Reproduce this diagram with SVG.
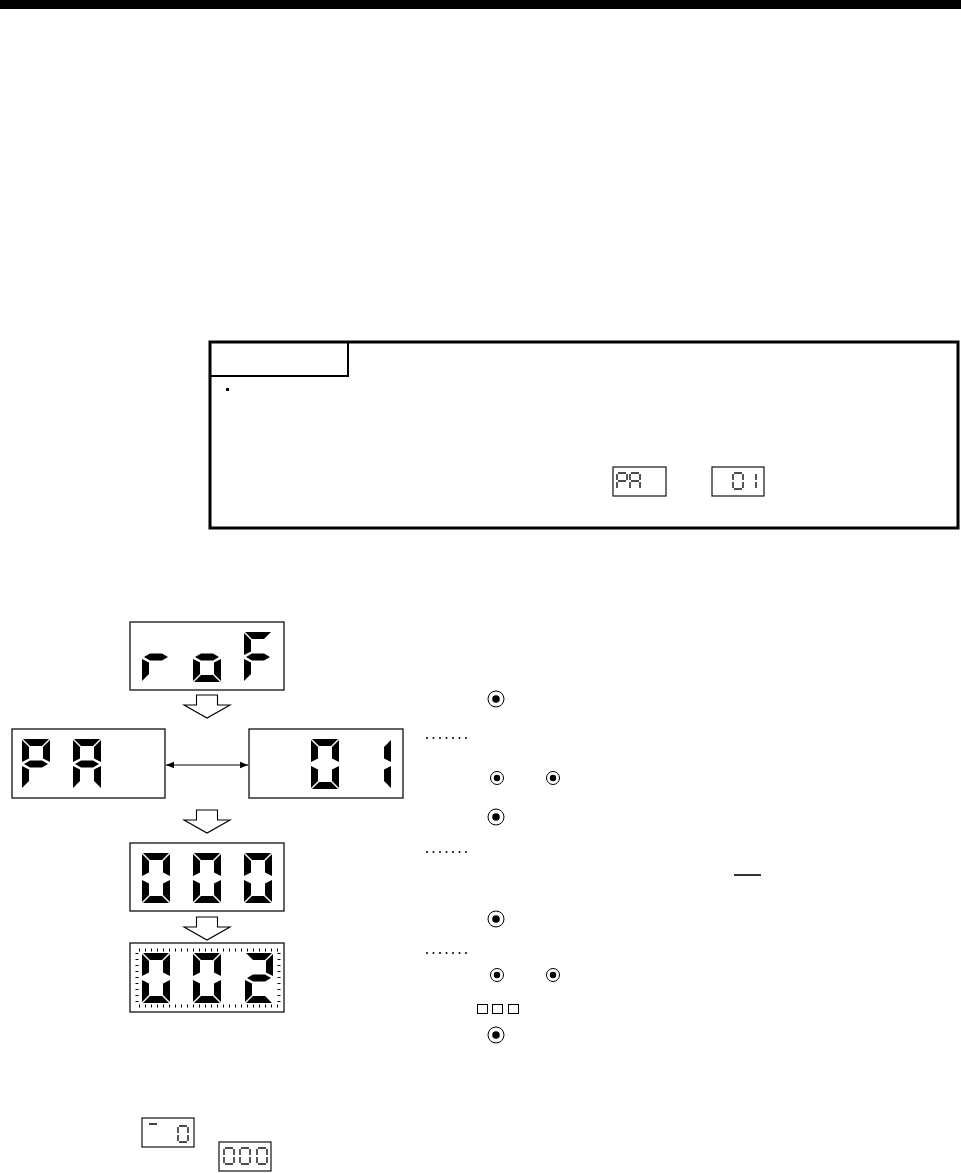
<svg xmlns="http://www.w3.org/2000/svg" width="961" height="1173" viewBox="0 0 961 1173">
<style>
.box{fill:#fff;stroke:#222;stroke-width:1.4}
.sbox{fill:#fff;stroke:#111;stroke-width:1.2}
.seg{fill:#000}
.sl{stroke:#111;stroke-width:1.4;fill:none;stroke-linecap:butt}
.barrow{fill:#fff;stroke:#000;stroke-width:1.1;stroke-linejoin:miter}
.dots{stroke:#000;stroke-width:2;stroke-linecap:round;stroke-dasharray:0 6.5;fill:none}
.tick{stroke:#000;stroke-width:3;stroke-dasharray:1 5;fill:none}
</style>
<defs>
<polygon id="sa" class="seg" points="1,0 27,0 20,7 8,7"/>
<polygon id="sb" class="seg" points="28,1 28,23 21,19.5 21,8"/>
<polygon id="sc" class="seg" points="28,27 28,49 21,42 21,30.5"/>
<polygon id="sd" class="seg" points="1,50 27,50 20,43 8,43"/>
<polygon id="se" class="seg" points="0,27 0,49 7,42 7,30.5"/>
<polygon id="sf" class="seg" points="0,1 0,23 7,19.5 7,8"/>
<polygon id="sg" class="seg" points="2,25 8,21.5 20,21.5 26,25 20,28.5 8,28.5"/>
<g id="D0"><use href="#sa"/><use href="#sb"/><use href="#sc"/><use href="#sd"/><use href="#se"/><use href="#sf"/></g>
<g id="D1"><use href="#sb"/><use href="#sc"/></g>
<g id="D2"><use href="#sa"/><use href="#sb"/><use href="#sg"/><use href="#se"/><use href="#sd"/></g>
<g id="Dr"><use href="#sg"/><use href="#se"/></g>
<g id="Do"><use href="#sg"/><use href="#sc"/><use href="#sd"/><use href="#se"/></g>
<g id="DF"><use href="#sa"/><use href="#sf"/><use href="#sg"/><use href="#se"/></g>
<g id="DP"><use href="#sa"/><use href="#sb"/><use href="#sf"/><use href="#sg"/><use href="#se"/></g>
<g id="DA"><use href="#sa"/><use href="#sb"/><use href="#sc"/><use href="#se"/><use href="#sf"/><use href="#sg"/></g>
<path id="s0" class="sl" d="M1,0H9M10,1V7M10,9V15M1,16H9M0,9V15M0,1V7"/>
<path id="s1" class="sl" d="M10,1V7M10,9V15"/>
<path id="sP" class="sl" d="M1,0H9M10,1V7M0,1V7M1,8H9M0,9V15"/>
<path id="sA" class="sl" d="M1,0H9M10,1V7M10,9V15M0,9V15M0,1V7M1,8H9"/>
<g id="btn"><circle r="8" fill="#fff" stroke="#000" stroke-width="1"/><circle r="3.8" fill="#000"/></g>
<g id="btns"><circle r="6.5" fill="#fff" stroke="#000" stroke-width="1"/><circle r="3.2" fill="#000"/></g>
<marker id="ah" viewBox="0 0 8 8" refX="8" refY="4" markerWidth="8" markerHeight="8" markerUnits="userSpaceOnUse" orient="auto-start-reverse"><path d="M0,0.8L8,4L0,7.2Z" fill="#000"/></marker>
</defs>

<rect id="topbar" x="0" y="0" width="961" height="9" fill="#000"/>

<g id="caution">
<rect x="210" y="342" width="748" height="186" fill="#fff" stroke="#000" stroke-width="3"/>
<path d="M210,376H348V342" fill="none" stroke="#000" stroke-width="2"/>
<rect x="226" y="388" width="3" height="3" fill="#000"/>
<g id="caution-pa">
<rect class="sbox" x="613" y="467" width="53" height="29"/>
<use href="#sP" x="617" y="473"/><use href="#sA" x="630" y="473"/>
</g>
<g id="caution-01">
<rect class="sbox" x="712" y="467" width="52" height="29"/>
<use href="#s0" x="733" y="473"/><use href="#s1" x="746" y="473"/>
</g>
</g>

<g id="disp-roF">
<rect class="box" x="130" y="622" width="154" height="68"/>
<use href="#Dr" x="142" y="632"/><use href="#Do" x="193" y="632"/><use href="#DF" x="244" y="632"/>
</g>
<g id="disp-PA">
<rect class="box" x="12" y="729" width="153" height="69"/>
<use href="#DP" x="22" y="739"/><use href="#DA" x="73" y="739"/>
</g>
<g id="disp-01">
<rect class="box" x="249" y="729" width="154" height="69"/>
<use href="#D0" x="311" y="739"/><use href="#D1" x="363" y="739"/>
</g>
<g id="disp-000">
<rect class="box" x="130" y="843" width="154" height="68"/>
<use href="#D0" x="142" y="853"/><use href="#D0" x="193" y="853"/><use href="#D0" x="244" y="853"/>
</g>
<g id="disp-002">
<rect class="box" x="130" y="943" width="154" height="69"/>
<line class="tick" x1="139" y1="950" x2="279" y2="950"/>
<line class="tick" x1="139" y1="1006" x2="279" y2="1006"/>
<line class="tick" x1="137" y1="953" x2="137" y2="1005"/>
<line class="tick" x1="279" y1="953" x2="279" y2="1005"/>
<use href="#D0" x="142" y="953"/><use href="#D0" x="193" y="953"/><use href="#D2" x="245" y="953"/>
</g>

<g id="connectors">
<path class="barrow" d="M196.5,695H217.5V705H230L207,718L184,705H196.5Z"/>
<path class="barrow" d="M196.5,810H217.5V820H230L207,833L184,820H196.5Z"/>
<path class="barrow" d="M196.5,917H217.5V927H230L207,940L184,927H196.5Z"/>
<line x1="166" y1="765" x2="248" y2="765" stroke="#000" stroke-width="1.1" marker-start="url(#ah)" marker-end="url(#ah)"/>
</g>

<g id="steps">
<use href="#btn" x="496" y="699"/>
<line class="dots" x1="427" y1="738" x2="467" y2="738"/>
<use href="#btns" x="497" y="778"/><use href="#btns" x="553" y="778"/>
<use href="#btn" x="496" y="817"/>
<line class="dots" x1="427" y1="852" x2="467" y2="852"/>
<line x1="734" y1="875" x2="761" y2="875" stroke="#000" stroke-width="1.6"/>
<use href="#btn" x="496" y="919"/>
<line class="dots" x1="427" y1="953" x2="467" y2="953"/>
<use href="#btns" x="497" y="975"/><use href="#btns" x="553" y="975"/>
<rect x="477.5" y="1004.5" width="10" height="9" fill="none" stroke="#000" stroke-width="1"/>
<rect x="492.5" y="1004.5" width="10" height="9" fill="none" stroke="#000" stroke-width="1"/>
<rect x="508.5" y="1004.5" width="10" height="9" fill="none" stroke="#000" stroke-width="1"/>
<use href="#btn" x="496" y="1035"/>
</g>

<g id="note-disp1">
<rect class="sbox" x="142" y="1118" width="52" height="29"/>
<line x1="149" y1="1124" x2="157" y2="1124" stroke="#000" stroke-width="1.5"/>
<use href="#s0" x="178" y="1126"/>
</g>
<g id="note-disp2">
<rect class="sbox" x="219" y="1142" width="52" height="29"/>
<use href="#s0" x="224" y="1148"/><use href="#s0" x="240" y="1148"/><use href="#s0" x="257" y="1148"/>
</g>
</svg>
